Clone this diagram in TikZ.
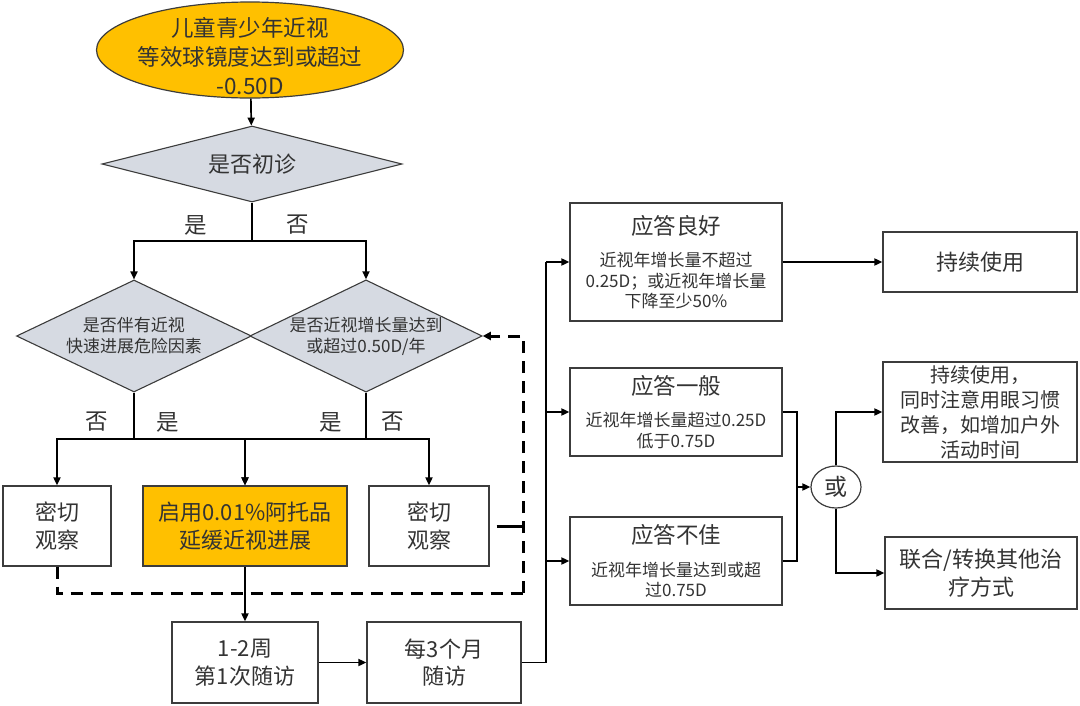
\documentclass[tikz,border=0pt]{standalone}
\usepackage{fontspec}
\setmainfont{Noto Sans CJK SC}
\usetikzlibrary{arrows.meta,calc,shapes.geometric}
\definecolor{gold}{HTML}{FFC000}
\definecolor{judgec}{HTML}{D6DAE2}
\definecolor{linec}{HTML}{3C3C3C}
\definecolor{txtc}{HTML}{333333}
\tikzset{
  box/.style={draw=linec,line width=1.2pt,rectangle,inner sep=0pt,align=center,text=txtc,
    font=\fontsize{22}{27.5}\selectfont},
  judge/.style={draw=linec,line width=1.1pt,diamond,fill=judgec,inner sep=0pt,align=center,text=txtc},
  resp/.style={box,minimum width=212pt,font=\fontsize{17}{20.5}\selectfont},
  arr/.style={line width=1.7pt,-{Triangle[length=8pt,width=7pt]}},
  ln/.style={line width=1.7pt},
  loopback/.style={line width=3pt,dash pattern=on 12pt off 8pt},
  tag/.style={text=txtc,font=\fontsize{22.5}{22.5}\selectfont}
}
\begin{document}
\begin{tikzpicture}[x=1pt,y=-1pt]
  \useasboundingbox (0,0) rectangle (1080,705);
  % 起始与初诊判断
  \node[box,ellipse,fill=gold,minimum width=307pt,minimum height=96pt,
    label={[text=txtc,align=center,font=\fontsize{22.5}{29}\selectfont,yshift=-6pt]center:儿童青少年近视\\等效球镜度达到或超过\\-0.50D}]
    (start) at (250,50) {};
  \node[judge,aspect=3.95,minimum width=300pt,minimum height=76pt,font=\fontsize{22}{22}\selectfont]
    (first) at (252,164) {是否初诊};
  \draw[arr] (start) -- (first);
  \coordinate (b1) at (252,241);
  \draw[ln] (first.south) -- (b1);
  \node[tag] at (196,225) {是};
  \node[tag] at (298,225) {否};
  % 两个二级判断
  \node[judge,aspect=2.07,minimum width=235pt,minimum height=112pt,font=\fontsize{17}{21}\selectfont]
    (risk) at (134,336) {是否伴有近视\\快速进展危险因素};
  \node[judge,aspect=2.07,minimum width=229pt,minimum height=112pt,font=\fontsize{17}{21}\selectfont]
    (grow) at (366,336) {是否近视增长量达到\\或超过0.50D/年};
  \draw[arr] (b1) -| (risk.north);
  \draw[arr] (b1) -| (grow.north);
  % 处理方式
  \node[box,minimum width=108pt,minimum height=80pt] (obs1) at (57,526) {密切\\观察};
  \node[box,fill=gold,minimum width=204pt,minimum height=80pt] (atro) at (245,526) {启用0.01\%阿托品\\延缓近视进展};
  \node[box,minimum width=120pt,minimum height=80pt] (obs2) at (429,526) {密切\\观察};
  \coordinate (b2) at (134,439);
  \coordinate (b3) at (366,439);
  \draw[ln] (risk.south) -- (b2);
  \draw[ln] (grow.south) -- (b3);
  \draw[arr] (b2) -| (obs1.north);
  \draw[arr] (b2) -| (atro.north);
  \draw[arr] (b3) -| (atro.north);
  \draw[arr] (b3) -| (obs2.north);
  \node[tag] at (97,422) {否};
  \node[tag] at (168,422) {是};
  \node[tag] at (331,422) {是};
  \node[tag] at (393,422) {否};
  % 虚线回到增长量判断
  \coordinate (fb) at (523,593);
  \draw[loopback] (obs1.south) |- (fb);
  \draw[loopback,-{Triangle[length=8pt,width=8pt]}] (fb) |- (grow.east);
  \draw[line width=3pt] ([xshift=7pt]obs2.east) -- (fb |- obs2.east);
  % 随访
  \node[box,minimum width=146pt,minimum height=81pt] (visit1) at (245,662.5) {1-2周\\第1次随访};
  \node[box,minimum width=154pt,minimum height=81pt] (visit2) at (444,662.5) {每3个月\\随访};
  \draw[arr] (atro.south) -- (visit1.north);
  \draw[arr] (visit1.east) -- (visit2.west);
  % 应答评估
  \node[resp,minimum height=118pt] (good) at (676,262)
    {{\fontsize{22.5}{20.5}\selectfont 应答良好}\\[12pt]近视年增长量不超过\\0.25D；或近视年增长量\\下降至少50\%};
  \node[resp,minimum height=88pt] (mid) at (676,412)
    {{\fontsize{22.5}{20.5}\selectfont 应答一般}\\[12pt]近视年增长量超过0.25D\\低于0.75D};
  \node[resp,minimum height=88pt] (poor) at (676,561)
    {{\fontsize{22.5}{20.5}\selectfont 应答不佳}\\[12pt]近视年增长量达到或超\\过0.75D};
  \coordinate (bus) at (546,0);
  \draw[ln] (visit2.east) -| (bus |- good.west);
  \draw[arr] (bus |- good.west) -- (good.west);
  \draw[arr] (bus |- mid.west) -- (mid.west);
  \draw[arr] (bus |- poor.west) -- (poor.west);
  % 后续方案
  \node[box,minimum width=194pt,minimum height=60pt] (keep) at (980,262) {持续使用};
  \node[box,minimum width=194pt,minimum height=100pt,font=\fontsize{20}{25}\selectfont]
    (habit) at (980,412) {持续使用，\\同时注意用眼习惯\\改善，如增加户外\\活动时间};
  \node[box,minimum width=192pt,minimum height=72pt] (change) at (981,573) {联合/转换其他治\\疗方式};
  \node[box,ellipse,minimum width=50pt,minimum height=42pt,font=\fontsize{23}{23}\selectfont] (or) at (836,487) {或};
  \draw[arr] (good.east) -- (keep.west);
  \coordinate (jn) at (797,487);
  \draw[ln] (mid.east) -| (jn);
  \draw[ln] (poor.east) -| (jn);
  \draw[arr] (jn) -- (or.west);
  \draw[arr] (or.north) |- (habit.west);
  \draw[arr] (or.south) |- (change.west);
\end{tikzpicture}
\end{document}
